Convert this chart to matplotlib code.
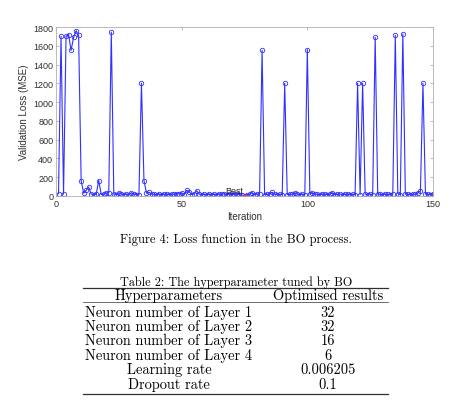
import numpy as np
import matplotlib
matplotlib.use("Agg")
import matplotlib.pyplot as plt
from matplotlib.lines import Line2D

# validation loss for each BO iteration
iterations = np.arange(1, 151)
loss = [
    25, 1700, 20, 1700, 1720, 1550, 1690, 1760, 1710, 165,
    30, 60, 95, 20, 15, 20, 165, 15, 20, 30,
    35, 1745, 20, 15, 35, 20, 15, 20, 15, 35,
    20, 15, 15, 1200, 165, 30, 40, 20, 18, 15,
    20, 15, 18, 20, 15, 22, 18, 20, 25, 35,
    15, 60, 45, 15, 25, 55, 20, 15, 18, 15,
    20, 15, 18, 15, 20, 18, 25, 15, 20, 15,
    18, 20, 15, 10, 2, 15, 18, 35, 15, 20,
    20, 1550, 15, 18, 20, 40, 20, 15, 18, 15,
    1200, 15, 20, 18, 35, 20, 15, 18, 15, 1560,
    20, 35, 20, 18, 15, 20, 18, 15, 20, 35,
    15, 18, 20, 15, 18, 20, 15, 18, 15, 1200,
    15, 1200, 20, 15, 18, 15, 1690, 20, 18, 15,
    20, 18, 15, 20, 1710, 25, 15, 1725, 20, 18,
    15, 20, 18, 35, 50, 1200, 20, 18, 15, 25,
]
best_iter = 75
best_loss = 2

x_ticks = [0, 50, 100, 150]
y_ticks = list(range(0, 1801, 200))

fig_caption = "Figure 4: Loss function in the BO process."
table_caption = "Table 2: The hyperparameter tuned by BO"
table_header = ["Hyperparameters", "Optimised results"]
param_names = ["Neuron number of Layer 1", "Neuron number of Layer 2",
               "Neuron number of Layer 3", "Neuron number of Layer 4",
               "Learning rate", "Dropout rate"]
param_values = ["32", "32", "16", "6", "0.006205", "0.1"]

W, H = 454, 402


def px(x, y):
    # pixel position -> figure fraction
    return x / W, 1 - y / H


fig = plt.figure(figsize=(W / 100, H / 100), dpi=100)
ax = fig.add_axes([56 / W, 1 - 197 / H, 377 / W, 169 / H])

ax.plot(iterations, loss, color='#3030ff', lw=0.8, marker='o', markersize=3.2,
        markerfacecolor='none', markeredgewidth=0.6)
ax.plot(best_iter, best_loss, marker='o', color='#ff3030', markersize=2.5, alpha=0.6)
ax.text(67.5, 12, 'Best', fontsize=6.5, va='bottom', color='#202020', family='Liberation Sans')

ax.set_xlim(0, 150)
ax.set_ylim(0, 1800)
ax.set_xticks(x_ticks)
ax.set_yticks(y_ticks)
ax.tick_params(direction='in', top=True, right=True, length=2, width=0.5,
               colors='#a0a0a0', labelcolor='#303030', labelsize=6.5, pad=2)
for lab in ax.get_xticklabels() + ax.get_yticklabels():
    lab.set_family('Liberation Sans')
for sp in ax.spines.values():
    sp.set_color('#b0b0b0')
    sp.set_linewidth(0.6)
ax.set_xlabel('Iteration', fontsize=7, color='#303030', family='Liberation Sans', labelpad=2)
ax.set_ylabel('Validation Loss (MSE)', fontsize=7, color='#303030', family='Liberation Sans', labelpad=3)

# caption and table below the chart
serif = 'cmr10'
fig.text(*px(236, 240), fig_caption, ha='center', va='center', fontsize=9, family=serif)
fig.text(*px(236, 283), table_caption, ha='center', va='center', fontsize=8.8, family=serif)

for y, lw in [(289, 0.9), (303, 0.5), (395, 0.9)]:
    fig.add_artist(Line2D([83 / W, 388 / W], [1 - y / H, 1 - y / H], color='#303030', lw=lw))

col1, col2 = 169, 328
fig.text(*px(col1, 296), table_header[0], ha='center', va='center', fontsize=10.4, family=serif)
fig.text(*px(col2, 296), table_header[1], ha='center', va='center', fontsize=10.4, family=serif)
row_y = [313, 327, 341, 356, 370, 385]
for yy, name, val in zip(row_y, param_names, param_values):
    fig.text(*px(col1, yy), name, ha='center', va='center', fontsize=10.4, family=serif)
    fig.text(*px(col2, yy), val, ha='center', va='center', fontsize=10.4, family=serif)

fig.savefig('out.png', dpi=100)
